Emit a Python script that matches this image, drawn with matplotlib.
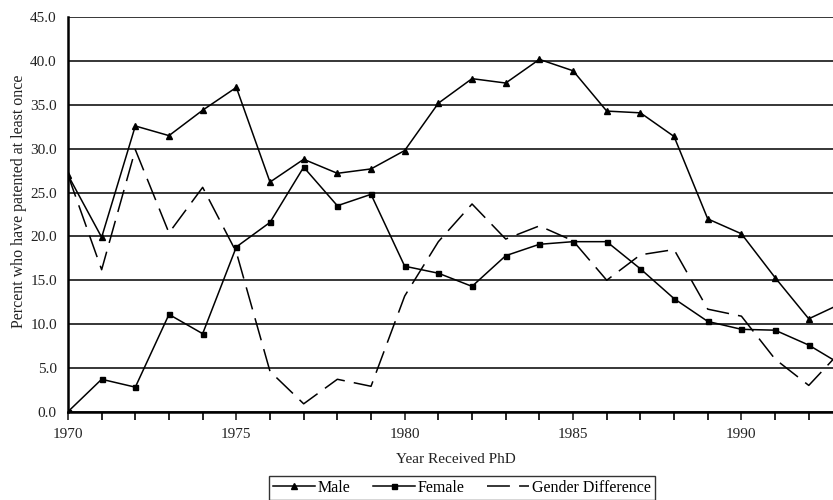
import matplotlib
matplotlib.use("Agg")
import matplotlib.pyplot as plt
from matplotlib.ticker import MultipleLocator, FormatStrFormatter

years = list(range(1970, 1994))
male = [27.0, 19.9, 32.6, 31.5, 34.4, 37.0, 26.2, 28.8, 27.2, 27.7, 29.8, 35.2,
        38.0, 37.5, 40.2, 38.9, 34.3, 34.1, 31.4, 22.0, 20.3, 15.3, 10.6, 12.4]
female = [0.0, 3.7, 2.8, 11.1, 8.9, 18.8, 21.6, 27.9, 23.5, 24.8, 16.6, 15.8,
          14.3, 17.8, 19.1, 19.4, 19.4, 16.3, 12.9, 10.3, 9.4, 9.3, 7.6, 5.3]
gender_diff = [27.0, 16.2, 29.9, 20.4, 25.6, 18.2, 4.6, 0.9, 3.7, 2.9, 13.2, 19.4,
               23.7, 19.7, 21.2, 19.5, 15.0, 17.9, 18.5, 11.7, 10.9, 6.0, 3.0, 7.1]

plt.rcParams['font.family'] = ['Liberation Serif', 'DejaVu Serif']
txt = '#222222'

fig = plt.figure(figsize=(8.33, 5.0), dpi=100)
ax = fig.add_axes([0.0816, 0.1766, 0.9184, 0.7888])

ax.plot(years, male, color='black', lw=1.1, marker='^', ms=4.0, label='Male')
ax.plot(years, female, color='black', lw=1.1, marker='s', ms=3.6, label='Female')
ax.plot(years, gender_diff, color='black', lw=1.1, dashes=(15, 6), label='Gender Difference')

ax.set_xlim(1970, 1992.72)
ax.set_ylim(0, 45)
ax.yaxis.set_major_locator(MultipleLocator(5))
ax.yaxis.set_major_formatter(FormatStrFormatter('%.1f'))
ax.xaxis.set_major_locator(MultipleLocator(5))
ax.xaxis.set_minor_locator(MultipleLocator(1))
ax.grid(axis='y', color='black', lw=1.1)
ax.set_axisbelow(True)

for s in ['top', 'right']:
    ax.spines[s].set_visible(False)
for s in ['left', 'bottom']:
    ax.spines[s].set_linewidth(1.8)
    ax.spines[s].set_color('black')

ax.tick_params(axis='y', length=0, pad=8, labelsize=11, colors=txt)
ax.tick_params(axis='x', which='major', length=6, width=1.2, direction='out', pad=6,
               labelsize=11, colors=txt)
ax.tick_params(axis='x', which='minor', length=6, width=1.2, direction='out')

ax.set_xlabel('Year Received PhD', fontsize=11, color=txt)
ax.xaxis.set_label_coords((456 - 68) / (833 - 68), -(453 - 411.7) / 394.4)
ax.set_ylabel('Percent who have patented at least once', fontsize=11.5, color=txt)
ax.yaxis.set_label_coords(-(68 - 27) / 765.0, (411.7 - 201) / 394.4)

leg = fig.legend(loc='upper center', bbox_to_anchor=(462 / 833, 1 - 476 / 500), ncol=3,
                 fontsize=11.5, frameon=True, fancybox=False, edgecolor='black',
                 handlelength=2.6, columnspacing=1.4, handletextpad=0.2,
                 borderpad=0.25, borderaxespad=0)
leg.get_frame().set_linewidth(1.0)

fig.savefig('out.png', dpi=100)
